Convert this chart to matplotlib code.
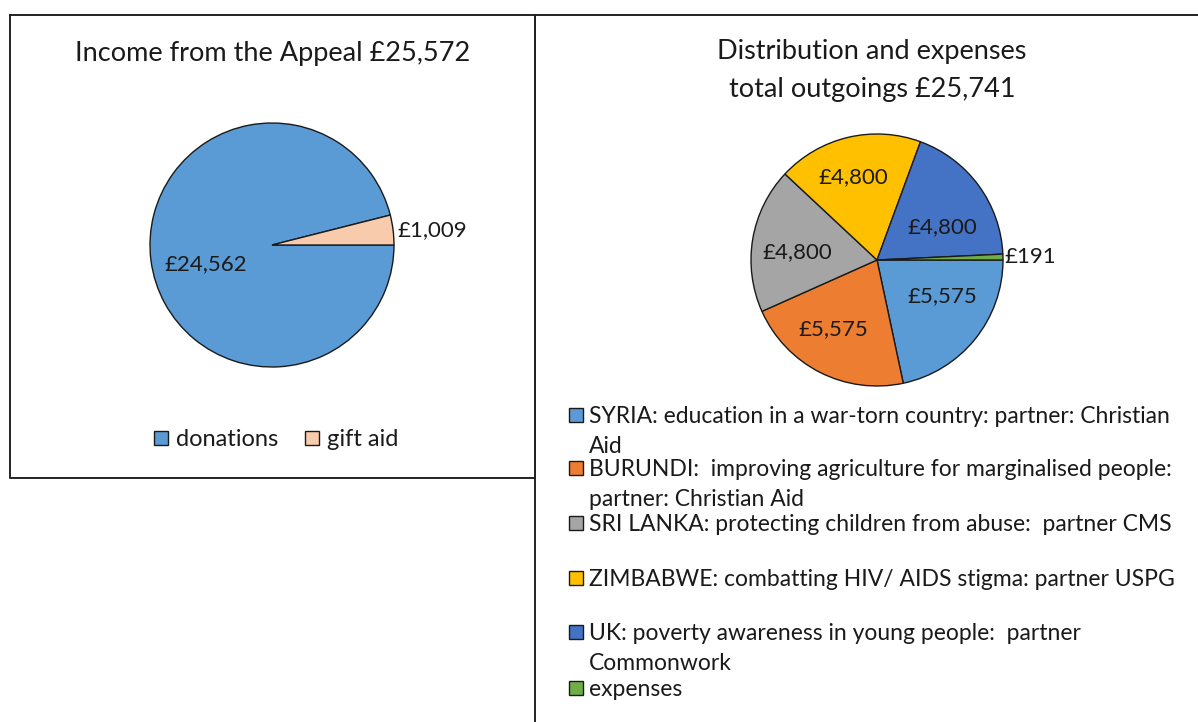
import numpy as np
import matplotlib.pyplot as plt
from matplotlib.patches import Rectangle

plt.rcParams["font.family"] = ["Lato", "DejaVu Sans"]

# データ
income_labels = ["donations", "gift aid"]
income_values = [24562, 1009]
income_colors = ["#5B9BD5", "#F8CBAD"]

out_labels = [
    "SYRIA: education in a war-torn country: partner: Christian\nAid",
    "BURUNDI:  improving agriculture for marginalised people:\npartner: Christian Aid",
    "SRI LANKA: protecting children from abuse:  partner CMS",
    "ZIMBABWE: combatting HIV/ AIDS stigma: partner USPG",
    "UK: poverty awareness in young people:  partner\nCommonwork",
    "expenses",
]
out_values = [5575, 5575, 4800, 4800, 4800, 191]
out_colors = ["#5B9BD5", "#ED7D31", "#A5A5A5", "#FFC000", "#4472C4", "#70AD47"]

W, H = 1198, 722
TXT = "#1a1a1a"
fig = plt.figure(figsize=(W / 100, H / 100), dpi=100)

# 背景（枠線・凡例をピクセル座標で描く）
bg = fig.add_axes([0, 0, 1, 1])
bg.set_xlim(0, W)
bg.set_ylim(H, 0)
bg.axis("off")
line_kw = dict(color="#222222", lw=1.4)
bg.plot([10, 535, 535, 10, 10], [15, 15, 478, 478, 15], **line_kw)
bg.plot([535, W], [15, 15], **line_kw)
bg.plot([535, 535], [15, H], **line_kw)


def pie_axes(cx, cy, r):
    s = 2.5 * r
    return fig.add_axes([(cx - s / 2) / W, 1 - (cy + s / 2) / H, s / W, s / H])


def draw_pie(ax, values, colors, label_pos, fs):
    ax.pie(values, colors=colors, startangle=0, counterclock=False,
           wedgeprops=dict(edgecolor=TXT, linewidth=1.0))
    ax.set_xlim(-1.25, 1.25)
    ax.set_ylim(-1.25, 1.25)
    # ラベル位置は半径単位（Excel の自動配置に合わせる）
    for v, (x, y) in zip(values, label_pos):
        ax.text(x, y, f"£{v:,}", ha="center", va="center", fontsize=fs, color=TXT)


# 左：収入
ax1 = pie_axes(272, 245, 122)
draw_pie(ax1, income_values, income_colors, [(-0.54, -0.16), (1.31, 0.12)], 16)
fig.text(273 / W, 1 - 54 / H, "Income from the Appeal £25,572",
         ha="center", va="center", fontsize=19.5, color=TXT)

# 左の凡例
lx = [154, 305]
for x, lab, c in zip(lx, income_labels, income_colors):
    bg.add_patch(Rectangle((x, 431), 14, 14, facecolor=c, edgecolor=TXT, lw=1))
    bg.text(x + 22, 446, lab, ha="left", va="baseline", fontsize=17, color=TXT)

# 右：支出
ax2 = pie_axes(877, 260, 126)
draw_pie(ax2, out_values, out_colors,
         [(0.52, -0.29), (-0.35, -0.55), (-0.63, 0.06),
          (-0.19, 0.66), (0.52, 0.26), (1.22, 0.02)], 16)
fig.text(872 / W, 1 - 52 / H, "Distribution and expenses",
         ha="center", va="center", fontsize=19.5, color=TXT)
fig.text(872 / W, 1 - 90 / H, "total outgoings £25,741",
         ha="center", va="center", fontsize=19.5, color=TXT)

# 右の凡例（折り返し行ごとに描く）
ly = [415, 468, 523, 578, 632, 688]
pitch = 30
for y, lab, c in zip(ly, out_labels, out_colors):
    bg.add_patch(Rectangle((569, y - 7), 14, 14, facecolor=c, edgecolor=TXT, lw=1))
    for i, line in enumerate(lab.split("\n")):
        bg.text(589, y + 8 + i * pitch, line, ha="left", va="baseline",
                fontsize=16.5, color=TXT)

fig.savefig("out.png", dpi=100, facecolor="white")
